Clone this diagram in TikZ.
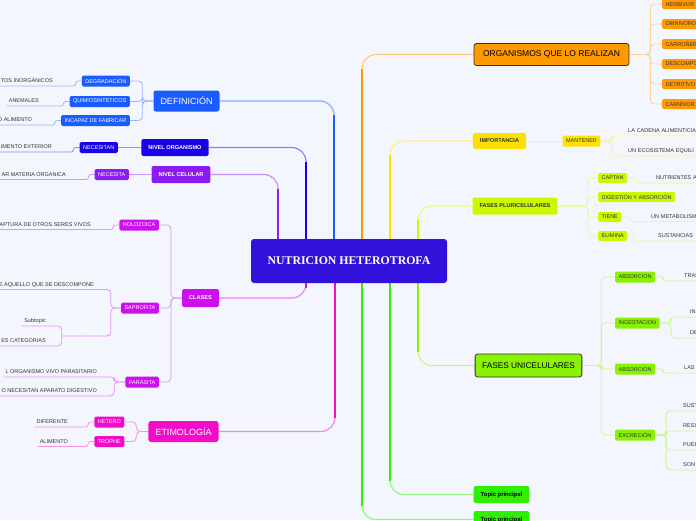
\documentclass[tikz,border=0pt]{standalone}
\usepackage{fontspec}
\setmainfont{Liberation Sans}
\newfontfamily\titlefont{Liberation Serif}
\usepackage{tikz}
\usetikzlibrary{calc,backgrounds}
\definecolor{paper}{HTML}{F3F6FD}
\definecolor{ink}{HTML}{333333}
\definecolor{rootC}{HTML}{3311DD}
\definecolor{defC}{HTML}{1A5CFF}
\definecolor{norgC}{HTML}{1800E8}
\definecolor{ncelC}{HTML}{8A1CF2}
\definecolor{claC}{HTML}{CC10EE}
\definecolor{etiC}{HTML}{F20CC8}
\definecolor{orgC}{HTML}{FF9A00}
\definecolor{impC}{HTML}{FFE100}
\definecolor{pluC}{HTML}{CCF800}
\definecolor{uniC}{HTML}{88F200}
\definecolor{topC}{HTML}{2EF000}
\newcommand\fsz[1]{\fontsize{#1}{#1}\selectfont}
\tikzset{
  rootbox/.style={
    rectangle, rounded corners=3pt, fill=rootC, text=white,
    font=\titlefont\bfseries\fsz{11.8},
    minimum width=196pt, minimum height=44pt
  },
  mainbox/.style={
    rectangle, rounded corners=2.5pt, fill=#1, text=white,
    font=\fsz{9}, inner xsep=7pt, minimum height=21pt
  },
  boldbox/.style={
    rectangle, rounded corners=2pt, fill=#1, text=white,
    font=\bfseries\fsz{5.6}, inner xsep=7pt, minimum height=17pt
  },
  subbox/.style={
    rectangle, rounded corners=1.5pt, fill=#1, text=white,
    font=\fsz{5.5}, inner xsep=3.5pt, inner ysep=0pt, minimum height=11pt
  },
  leaf/.style={
    font=\fsz{5.5}, text=ink, inner xsep=2pt, inner ysep=2.5pt,
    text height=4pt, text depth=0.5pt
  },
  lleaf/.style={leaf, anchor=east},
  rleaf/.style={leaf, anchor=west, text width=80pt, align=left},
  trunk/.style={line width=1.2pt, draw=#1!50, rounded corners=14pt},
  stem/.style={line width=2.6pt, draw=#1},
  twig/.style={line width=0.8pt, draw=#1!45, rounded corners=2.3pt},
  fork/.style={twig=#1, rounded corners=4pt},
}
\begin{document}
\begin{tikzpicture}[x=1pt, y=-1pt]
\useasboundingbox (0,0) rectangle (696,520);
\clip (0,0) rectangle (696,520);

% Centre
\node[rootbox] (root) at (349,261) {NUTRICION HETEROTROFA};
\coordinate (sCel) at (278,239);
\coordinate (sOrgn) at (306,239);
\coordinate (sDef) at (334,239);
\coordinate (sOrg) at (362,239);
\coordinate (sImp) at (390,239);
\coordinate (sPlu) at (418,239);
\coordinate (sCla) at (306,283);
\coordinate (sEti) at (335,283);
\coordinate (sTopB) at (362,283);
\coordinate (sTopA) at (390,283);
\coordinate (sUni) at (418,283);

% Left topics
\node[mainbox=defC] (defin) at (186.5,101) {DEFINICIÓN};
\node[boldbox=norgC] (norg) at (175,147.5) {NIVEL ORGANISMO};
\node[boldbox=ncelC] (ncel) at (181,174.5) {NIVEL CELULAR};
\node[boldbox=claC, minimum height=18pt] (clases) at (200.5,298) {CLASES};
\node[mainbox=etiC] (etim) at (183.5,431.5) {ETIMOLOGÍA};

\node[subbox=defC, anchor=east] (degr) at (130,81) {DEGRADACIÓN};
\node[subbox=defC, anchor=east] (quim) at (130,101.5) {QUIMIOSINTETICOS};
\node[subbox=defC, anchor=east] (incap) at (130,120.5) {INCAPAZ DE FABRICAR};
\node[subbox=norgC, anchor=east] (necn) at (118,147.5) {NECESITAN};
\node[subbox=ncelC, anchor=east] (neca) at (129,174.5) {NECESITA};
\node[subbox=claC, anchor=east] (holo) at (159,225) {HOLOZOICA};
\node[subbox=claC, anchor=east] (sapro) at (159,308) {SAPROFITA};
\node[subbox=claC, anchor=east] (para) at (159,382) {PARÁSITA};
\node[subbox=etiC, anchor=east] (hetero) at (124.5,422) {HETERO};
\node[subbox=etiC, anchor=east] (trophe) at (124.5,441.5) {TROPHE};

\node[lleaf] (inorg) at (55,81) {TOS INORGÁNICOS};
\node[lleaf] (anim) at (41,101) {ANEMALES};
\node[lleaf] (alim) at (34,120) {O ALIMENTO};
\node[lleaf] (exter) at (54,147) {IMENTO EXTERIOR};
\node[lleaf] (mater) at (68,174.5) {AR MATERIA ORGANICA};
\node[lleaf] (captu) at (93,224.5) {APTURA DE OTROS SERES VIVOS};
\node[lleaf] (desco) at (96,284.5) {E AQUELLO QUE SE DESCOMPONE};
\node[leaf, text=white, minimum width=43pt] (tiene) at (83.5,331) {TIENE};
\node[lleaf] (subt) at (48,321) {Subtopic};
\node[lleaf] (categ) at (48,341) {ES CATEGORIAS};
\node[lleaf] (vivo) at (99,372) {L ORGANISMO VIVO PARASITARIO};
\node[lleaf] (diges) at (99,391) {O NECESITAN APARATO DIGESTIVO};
\node[lleaf] (difer) at (70,422) {DIFERENTE};
\node[lleaf] (alimB) at (70,441.5) {ALIMENTO};

% Right topics
\node[mainbox=orgC, text=black, draw=ink, line width=0.8pt, font=\fsz{8.5}, inner xsep=9pt, minimum height=22pt] (organ) at (551.5,54.5) {ORGANISMOS QUE LO REALIZAN};
\node[boldbox=impC, text=ink, minimum height=16pt] (impor) at (499.5,141) {IMPORTANCIA};
\node[boldbox=pluC, text=ink] (pluri) at (515,206) {FASES PLURICELULARES};
\node[mainbox=uniC, text=black, draw=ink, line width=0.8pt, font=\fsz{8.3}, minimum height=23pt] (unic) at (528.5,365.5) {FASES UNICELULARES};
\node[boldbox=topC, text=black, font=\bfseries\fsz{5.9}] (topA) at (501.5,494.5) {Topic principal};
\node[boldbox=topC, text=black, font=\bfseries\fsz{5.9}] (topB) at (501.5,519.5) {Topic principal};

\node[subbox=orgC, text=ink, anchor=west, minimum height=10pt, text width=36pt, align=left] (oHerb) at (662,4) {HERBÍVOR};
\node[subbox=orgC, text=ink, anchor=west, minimum height=10pt, text width=36pt, align=left] (oOmni) at (662,24) {OMNIVORO};
\node[subbox=orgC, text=ink, anchor=west, minimum height=10pt, text width=36pt, align=left] (oCarr) at (662,44) {CARROÑER};
\node[subbox=orgC, text=ink, anchor=west, minimum height=10pt, text width=36pt, align=left] (oDesc) at (662,64) {DESCOMPO};
\node[subbox=orgC, text=ink, anchor=west, minimum height=10pt, text width=36pt, align=left] (oDetr) at (662,84) {DETRITÍVO};
\node[subbox=orgC, text=ink, anchor=west, minimum height=10pt, text width=36pt, align=left] (oCarn) at (662,104) {CARNÍVOR};

\node[subbox=impC, text=ink] (mant) at (581.5,141) {MANTENER};
\node[subbox=pluC, text=ink, anchor=west, minimum height=10pt] (captan) at (598,178) {CAPTAN};
\node[subbox=pluC, text=ink, anchor=west, minimum height=10pt] (digab) at (598,197) {DIGESTIÓN Y ABSORCIÓN};
\node[subbox=pluC, text=ink, anchor=west, minimum height=10pt] (tieneB) at (598,217) {TIENE};
\node[subbox=pluC, text=ink, anchor=west, minimum height=10pt] (elim) at (598,236) {ELIMINA};
\node[subbox=uniC, text=ink, anchor=west] (absA) at (615,277) {ABSORCION};
\node[subbox=uniC, text=ink, anchor=west] (inges) at (615,323) {INGESTACION};
\node[subbox=uniC, text=ink, anchor=west] (absB) at (615,369) {ABSORCIÓN};
\node[subbox=uniC, text=ink, anchor=west] (excr) at (615,435) {EXCRECIÓN};

\node[rleaf] (cadena) at (626,131) {LA CADENA ALIMENTICIA};
\node[rleaf] (ecosis) at (626,151) {UN ECOSISTEMA EQUILI};
\node[rleaf] (nutri) at (654,178) {NUTRIENTES A};
\node[rleaf] (metab) at (649,216.5) {UN METABOLISM};
\node[rleaf] (susta) at (656,236) {SUSTANCIAS};
\node[rleaf] (tras) at (682,276) {TRAS};
\node[rleaf] (inA) at (688,312) {IN};
\node[rleaf] (deA) at (688,333) {DE};
\node[rleaf] (las) at (682,368) {LAS};
\node[rleaf] (sustB) at (681,406) {SUST};
\node[rleaf] (resu) at (681,426) {RESU};
\node[rleaf] (pued) at (681,445) {PUED};
\node[rleaf] (son) at (681,465) {SON};

% Connectors behind the boxes
\begin{scope}[on background layer]
  \clip (0,0) rectangle (696,520);
  \fill[paper] (0,0) rectangle (696,520);

  \draw[trunk=ncelC] (sCel) |- (ncel.east);
  \draw[stem=ncelC] (sCel) -- ($(sCel |- ncel.east)+(0,14)$);
  \draw[trunk=norgC] (sOrgn) |- (norg.east);
  \draw[stem=norgC] (sOrgn) -- ($(sOrgn |- norg.east)+(0,14)$);
  \draw[trunk=defC] (sDef) |- (defin.east);
  \draw[stem=defC] (sDef) -- ($(sDef |- defin.east)+(0,14)$);
  \draw[trunk=orgC] (sOrg) |- (organ.west);
  \draw[stem=orgC] (sOrg) -- ($(sOrg |- organ.west)+(0,14)$);
  \draw[trunk=impC] (sImp) |- (impor.west);
  \draw[stem=impC] (sImp) -- ($(sImp |- impor.west)+(0,14)$);
  \draw[trunk=pluC] (sPlu) |- (pluri.west);
  \draw[stem=pluC] (sPlu) -- ($(sPlu |- pluri.west)+(0,14)$);
  \draw[trunk=claC] (sCla) |- (clases.east);
  \draw[stem=claC] (sCla) -- ($(sCla |- clases.east)+(0,-10)$);
  \draw[trunk=etiC] (sEti) |- (etim.east);
  \draw[stem=etiC] (sEti) -- ($(sEti |- etim.east)+(0,-14)$);
  \draw[trunk=topC] (sTopB) |- (topB.west);
  \draw[stem=topC] (sTopB) -- ($(sTopB |- topB.west)+(0,-14)$);
  \draw[trunk=topC] (sTopA) |- (topA.west);
  \draw[stem=topC] (sTopA) -- ($(sTopA |- topA.west)+(0,-14)$);
  \draw[trunk=uniC] (sUni) |- (unic.west);
  \draw[stem=uniC] (sUni) -- ($(sUni |- unic.west)+(0,-14)$);

  % left twigs
  \draw[fork=defC] (defin.west) -- ++(-11,0) |- (degr.east);
  \draw[fork=defC] (defin.west) -- ++(-11,0) |- (quim.east);
  \draw[fork=defC] (defin.west) -- ++(-11,0) |- (incap.east);
  \draw[twig=defC] (degr.west) -- ++(-6,0) |- (inorg.south east) -- (inorg.south west);
  \draw[twig=defC] (quim.west) -- ++(-6,0) |- (anim.south east) -- (anim.south west);
  \draw[twig=defC] (incap.west) -- ++(-6,0) |- (alim.south east) -- (alim.south west);
  \draw[twig=norgC] (norg.west) -- (necn.east);
  \draw[twig=norgC] (necn.west) -- ++(-6,0) |- (exter.south east) -- (exter.south west);
  \draw[twig=ncelC] (ncel.west) -- (neca.east);
  \draw[twig=ncelC] (neca.west) -- ++(-6,0) |- (mater.south east) -- (mater.south west);

  \draw[fork=claC] (clases.west) -- ++(-11,0) |- (holo.east);
  \draw[fork=claC] (clases.west) -- ++(-11,0) |- (sapro.east);
  \draw[fork=claC] (clases.west) -- ++(-11,0) |- (para.east);
  \draw[twig=claC] (holo.west) -- ++(-6,0) |- (captu.south east) -- (captu.south west);
  \draw[fork=claC] (sapro.west) -- ++(-10,0) |- (desco.south east) -- (desco.south west);
  \draw[fork=claC] (sapro.west) -- ++(-10,0) |- (tiene.south east) -- (tiene.south west);
  \draw[fork=claC] (tiene.south west) |- (subt.south east) -- (subt.south west);
  \draw[fork=claC] (tiene.south west) |- (categ.south east) -- (categ.south west);
  \draw[fork=claC] (para.west) -- ++(-11,0) |- (vivo.south east) -- (vivo.south west);
  \draw[fork=claC] (para.west) -- ++(-11,0) |- (diges.south east) -- (diges.south west);

  \draw[fork=etiC] (etim.west) -- ++(-12,0) |- (hetero.east);
  \draw[fork=etiC] (etim.west) -- ++(-12,0) |- (trophe.east);
  \draw[twig=etiC] (hetero.west) -- ++(-6,0) |- (difer.south east) -- (difer.south west);
  \draw[twig=etiC] (trophe.west) -- ++(-6,0) |- (alimB.south east) -- (alimB.south west);

  % right twigs
  \draw[fork=orgC] (organ.east) -- ++(21,0) |- (oHerb.west);
  \draw[fork=orgC] (organ.east) -- ++(21,0) |- (oOmni.west);
  \draw[fork=orgC] (organ.east) -- ++(21,0) |- (oCarr.west);
  \draw[fork=orgC] (organ.east) -- ++(21,0) |- (oDesc.west);
  \draw[fork=orgC] (organ.east) -- ++(21,0) |- (oDetr.west);
  \draw[fork=orgC] (organ.east) -- ++(21,0) |- (oCarn.west);

  \draw[twig=impC] (impor.east) -- (mant.west);
  \draw[fork=impC] (mant.east) -- ++(11,0) |- (cadena.south west) -- (cadena.south east);
  \draw[fork=impC] (mant.east) -- ++(11,0) |- (ecosis.south west) -- (ecosis.south east);

  \draw[fork=pluC] (pluri.east) -- ++(30,0) |- (captan.west);
  \draw[fork=pluC] (pluri.east) -- ++(30,0) |- (digab.west);
  \draw[fork=pluC] (pluri.east) -- ++(30,0) |- (tieneB.west);
  \draw[fork=pluC] (pluri.east) -- ++(30,0) |- (elim.west);
  \draw[twig=pluC] (captan.east) -- ++(8,0) |- (nutri.south west) -- (nutri.south east);
  \draw[twig=pluC] (tieneB.east) -- ++(8,0) |- (metab.south west) -- (metab.south east);
  \draw[twig=pluC] (elim.east) -- ++(8,0) |- (susta.south west) -- (susta.south east);

  \draw[fork=uniC] (unic.east) -- ++(19,0) |- (absA.west);
  \draw[fork=uniC] (unic.east) -- ++(19,0) |- (inges.west);
  \draw[fork=uniC] (unic.east) -- ++(19,0) |- (absB.west);
  \draw[fork=uniC] (unic.east) -- ++(19,0) |- (excr.west);
  \draw[twig=uniC] (absA.east) -- ++(8,0) |- (tras.south west) -- (tras.south east);
  \draw[fork=uniC] (inges.east) -- ++(11,0) |- (inA.south west) -- (inA.south east);
  \draw[fork=uniC] (inges.east) -- ++(11,0) |- (deA.south west) -- (deA.south east);
  \draw[twig=uniC] (absB.east) -- ++(8,0) |- (las.south west) -- (las.south east);
  \draw[fork=uniC] (excr.east) -- ++(11,0) |- (sustB.south west) -- (sustB.south east);
  \draw[fork=uniC] (excr.east) -- ++(11,0) |- (resu.south west) -- (resu.south east);
  \draw[fork=uniC] (excr.east) -- ++(11,0) |- (pued.south west) -- (pued.south east);
  \draw[fork=uniC] (excr.east) -- ++(11,0) |- (son.south west) -- (son.south east);
\end{scope}

\end{tikzpicture}
\end{document}
